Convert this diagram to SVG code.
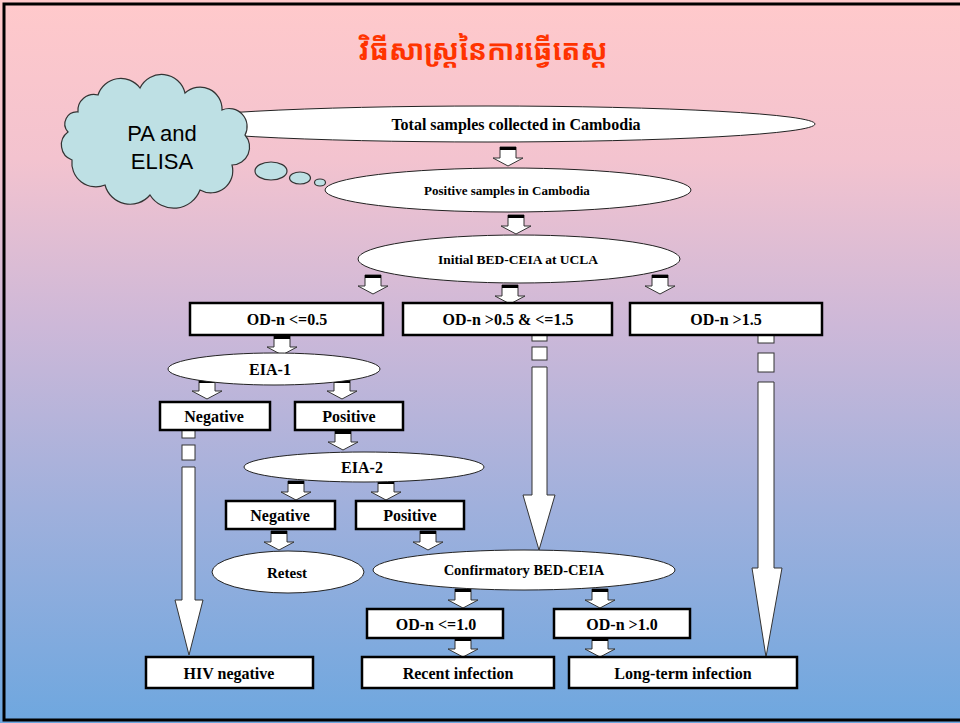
<svg xmlns="http://www.w3.org/2000/svg" width="960" height="723" viewBox="0 0 960 723">
<defs>
<linearGradient id="bg" x1="0" y1="0" x2="0" y2="1">
<stop offset="0" stop-color="#FFC9CB"/>
<stop offset="0.22" stop-color="#F3C3CF"/>
<stop offset="0.45" stop-color="#CDB8D8"/>
<stop offset="0.7" stop-color="#A0B0DC"/>
<stop offset="1" stop-color="#6EA7DF"/>
</linearGradient>
<g id="barrow">
<path d="M-8,0 L8,0 L8,11 L15,11 L0,19 L-15,11 L-8,11 Z" fill="#fff" stroke="#333" stroke-width="1"/>
<rect x="-8" y="0" width="16" height="3" fill="#000"/>
</g>
</defs>
<style>
.box{fill:#fff;stroke:#000;stroke-width:2.5}
.ell{fill:#fff;stroke:#222;stroke-width:1}
.t{font-family:"Liberation Serif","Times New Roman",serif;font-weight:bold;fill:#000;text-anchor:middle}
.la{fill:#fff;stroke:#333;stroke-width:1}
</style>
<rect x="0" y="0" width="960" height="723" fill="url(#bg)"/>
<rect x="4" y="4" width="970" height="716" fill="none" stroke="#000" stroke-width="3"/>

<text x="483" y="60" font-family="'Noto Sans Khmer','Noto Serif Khmer','Khmer OS','Khmer OS System',sans-serif" font-size="28" font-weight="bold" fill="#FF3300" text-anchor="middle">វិធីសាស្ត្រនៃការធ្វើតេស្ត</text>

<g id="connectors">
<use href="#barrow" x="508" y="147"/>
<use href="#barrow" x="516" y="215"/>
<use href="#barrow" x="373" y="275"/>
<use href="#barrow" x="510" y="285"/>
<use href="#barrow" x="660" y="275"/>
<use href="#barrow" x="282" y="336"/>
<use href="#barrow" x="207" y="380"/>
<use href="#barrow" x="342" y="380"/>
<use href="#barrow" x="343" y="431"/>
<use href="#barrow" x="296" y="481"/>
<use href="#barrow" x="386" y="481"/>
<use href="#barrow" x="279" y="531"/>
<use href="#barrow" x="428" y="531"/>
<use href="#barrow" x="463" y="589"/>
<use href="#barrow" x="600" y="589"/>
<use href="#barrow" x="463" y="638"/>
<use href="#barrow" x="600" y="638"/>
<g id="long-left">
<rect class="la" x="182" y="430" width="13" height="8"/>
<rect class="la" x="182" y="445" width="13" height="15"/>
<path class="la" d="M182,467 L195,467 L195,600 L203,600 L189,655 L175,600 L182,600 Z"/>
</g>
<g id="long-mid">
<rect class="la" x="532" y="335" width="15" height="6"/>
<rect class="la" x="532" y="347" width="15" height="13"/>
<path class="la" d="M532,367 L547,367 L547,495 L555,495 L539,550 L523,495 L532,495 Z"/>
</g>
<g id="long-right">
<rect class="la" x="758" y="335" width="16" height="8"/>
<rect class="la" x="758" y="353" width="16" height="19"/>
<path class="la" d="M758,382 L774,382 L774,568 L782,568 L766,657 L752,568 L758,568 Z"/>
</g>
</g>

<g id="n-total"><ellipse class="ell" cx="487" cy="124" rx="328" ry="18"/><text class="t" x="516" y="130" font-size="16">Total samples collected in Cambodia</text></g>

<g id="n-cloud">
<path d="M78,112 A16,16 0 0 1 98,95 A24,24 0 0 1 140,88 A24,24 0 0 1 185,93 A22,22 0 0 1 222,110 A18,18 0 0 1 245,135 A18,18 0 0 1 232,165 A22,22 0 0 1 200,190 A28,28 0 0 1 150,195 A26,26 0 0 1 105,185 A24,24 0 0 1 72,160 A16,16 0 0 1 68,132 A12,12 0 0 1 78,112 Z" fill="#BEE0E4" stroke="#333" stroke-width="1.2"/>
<ellipse cx="271" cy="171" rx="16" ry="9" fill="#BEE0E4" stroke="#333" stroke-width="1.2"/>
<ellipse cx="300" cy="178" rx="10.5" ry="6" fill="#BEE0E4" stroke="#333" stroke-width="1.2"/>
<ellipse cx="320" cy="182.5" rx="5.5" ry="3.5" fill="#BEE0E4" stroke="#333" stroke-width="1.2"/>
<text x="162" y="141" font-family="'Liberation Sans',Arial,sans-serif" font-size="22" text-anchor="middle" fill="#000">PA and</text>
<text x="162" y="169" font-family="'Liberation Sans',Arial,sans-serif" font-size="22" text-anchor="middle" fill="#000">ELISA</text>
</g>

<g id="n-positive"><ellipse class="ell" cx="508" cy="190" rx="183" ry="22"/><text class="t" x="507" y="195" font-size="13">Positive samples in Cambodia</text></g>
<g id="n-initial"><ellipse class="ell" cx="519" cy="259" rx="161" ry="24"/><text class="t" x="518" y="264" font-size="13.5">Initial BED-CEIA at UCLA</text></g>

<g id="n-od05"><rect class="box" x="190" y="303" width="193" height="32"/><text class="t" x="287" y="325" font-size="16">OD-n &lt;=0.5</text></g>
<g id="n-od0515"><rect class="box" x="403" y="303" width="209" height="32"/><text class="t" x="508" y="325" font-size="16">OD-n &gt;0.5 &amp; &lt;=1.5</text></g>
<g id="n-od15"><rect class="box" x="630" y="303" width="192" height="32"/><text class="t" x="726" y="325" font-size="16">OD-n &gt;1.5</text></g>

<g id="n-eia1"><ellipse class="ell" cx="274" cy="369" rx="106" ry="16"/><text class="t" x="270" y="375" font-size="16">EIA-1</text></g>
<g id="n-neg1"><rect class="box" x="160" y="402" width="110" height="28"/><text class="t" x="214" y="422" font-size="16">Negative</text></g>
<g id="n-pos1"><rect class="box" x="295" y="402" width="108" height="28"/><text class="t" x="349" y="422" font-size="16">Positive</text></g>

<g id="n-eia2"><ellipse class="ell" cx="364" cy="467" rx="120" ry="15"/><text class="t" x="362" y="473" font-size="16">EIA-2</text></g>
<g id="n-neg2"><rect class="box" x="226" y="501" width="109" height="28"/><text class="t" x="280" y="521" font-size="16">Negative</text></g>
<g id="n-pos2"><rect class="box" x="356" y="501" width="108" height="28"/><text class="t" x="410" y="521" font-size="16">Positive</text></g>

<g id="n-retest"><ellipse class="ell" cx="288" cy="572" rx="76" ry="21"/><text class="t" x="287" y="578" font-size="15">Retest</text></g>
<g id="n-confirm"><ellipse class="ell" cx="524" cy="570" rx="151" ry="20"/><text class="t" x="524" y="575" font-size="14.5">Confirmatory BED-CEIA</text></g>

<g id="n-od10a"><rect class="box" x="367" y="609" width="136" height="29"/><text class="t" x="436" y="630" font-size="16">OD-n &lt;=1.0</text></g>
<g id="n-od10b"><rect class="box" x="554" y="609" width="136" height="29"/><text class="t" x="622" y="630" font-size="16">OD-n &gt;1.0</text></g>

<g id="n-hivneg"><rect class="box" x="146" y="657" width="167" height="31"/><text class="t" x="229" y="679" font-size="16">HIV negative</text></g>
<g id="n-recent"><rect class="box" x="362" y="657" width="192" height="31"/><text class="t" x="458" y="679" font-size="16">Recent infection</text></g>
<g id="n-longterm"><rect class="box" x="569" y="657" width="228" height="31"/><text class="t" x="683" y="679" font-size="16">Long-term infection</text></g>
</svg>
